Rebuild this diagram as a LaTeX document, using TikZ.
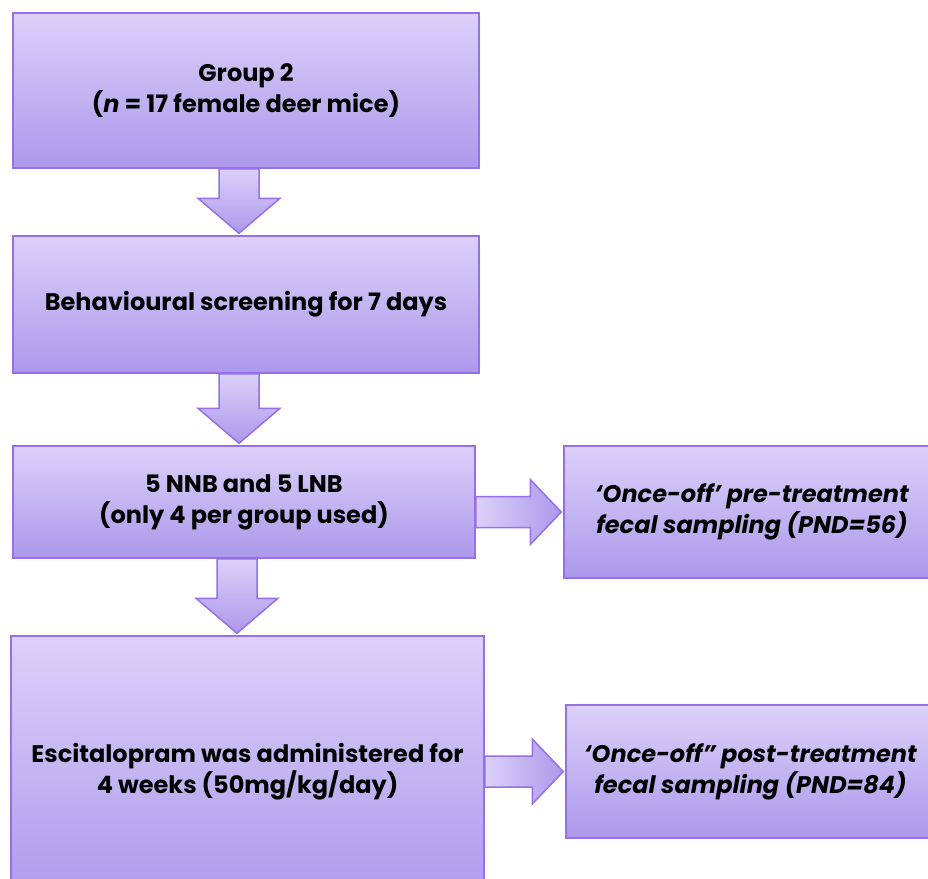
\documentclass[tikz,border=0pt]{standalone}
\usepackage{fontspec}
\setmainfont{Poppins}
\usetikzlibrary{calc}
\definecolor{boxtop}{RGB}{219,209,249}
\definecolor{boxbot}{RGB}{172,152,235}
\definecolor{boxline}{RGB}{150,112,232}
\tikzset{
  stepbox/.style={draw=boxline, line width=1.5pt, top color=boxtop, bottom color=boxbot,
    align=center, inner sep=0pt, font=\bfseries\fontsize{24}{31}\selectfont},
  sidebox/.style={stepbox, font=\bfseries\itshape\fontsize{24}{31}\selectfont},
  downfill/.style={draw=boxline, line width=1.5pt, top color=boxtop, bottom color=boxbot},
  sidefill/.style={draw=boxline, line width=1.5pt, left color=boxtop, right color=boxbot}
}
% block arrows between two boxes
\newcommand{\downblock}[2]{%
  \path[downfill] ($(#1.south)+(-27,0)$) -- ($(#1.south |- #2.north)+(-27,-37)$)
    -- ($(#1.south |- #2.north)+(-48,-37)$) -- ($(#1.south |- #2.north)+(-7,-2)$)
    -- ($(#1.south |- #2.north)+(34,-37)$) -- ($(#1.south |- #2.north)+(13,-37)$)
    -- ($(#1.south)+(13,0)$) -- cycle;}
\newcommand{\sideblock}[2]{%
  \path[sidefill] ($(#1.east |- #2.west)+(0,-15.5)$) -- ($(#2.west)+(-33,-15.5)$)
    -- ($(#2.west)+(-33,-32.5)$) -- ($(#2.west)+(-2,0)$)
    -- ($(#2.west)+(-33,32.5)$) -- ($(#2.west)+(-33,15.5)$)
    -- ($(#1.east |- #2.west)+(0,15.5)$) -- cycle;}
\begin{document}
\begin{tikzpicture}[x=1pt,y=-1pt]
  \path[use as bounding box, clip] (0,0) rectangle (928,878);
  \fill[white] (0,0) rectangle (928,878);

  \node[stepbox, minimum width=466, minimum height=155] (group) at (246,90.5)
    {Group 2\\(\textit{n} = 17 female deer mice)};
  \node[stepbox, minimum width=466, minimum height=137] (screen) at (246,304.5)
    {Behavioural screening for 7 days};
  \node[stepbox, minimum width=462, minimum height=112] (split) at (244,502)
    {5 NNB and 5 LNB\\(only 4 per group used)};
  \node[stepbox, minimum width=473, minimum height=272] (drug) at (247.5,772)
    {Escitalopram was administered for\\4 weeks (50mg/kg/day)};
  \node[sidebox, minimum width=376, minimum height=132] (pre) at (752,512)
    {‘Once-off’ pre-treatment\\fecal sampling (PND=56)};
  \node[sidebox, minimum width=369, minimum height=133] (post) at (750.5,771.5)
    {‘Once-off” post-treatment\\fecal sampling (PND=84)};

  \downblock{group}{screen}
  \downblock{screen}{split}
  \downblock{split}{drug}
  \sideblock{split}{pre}
  \sideblock{drug}{post}
\end{tikzpicture}
\end{document}
